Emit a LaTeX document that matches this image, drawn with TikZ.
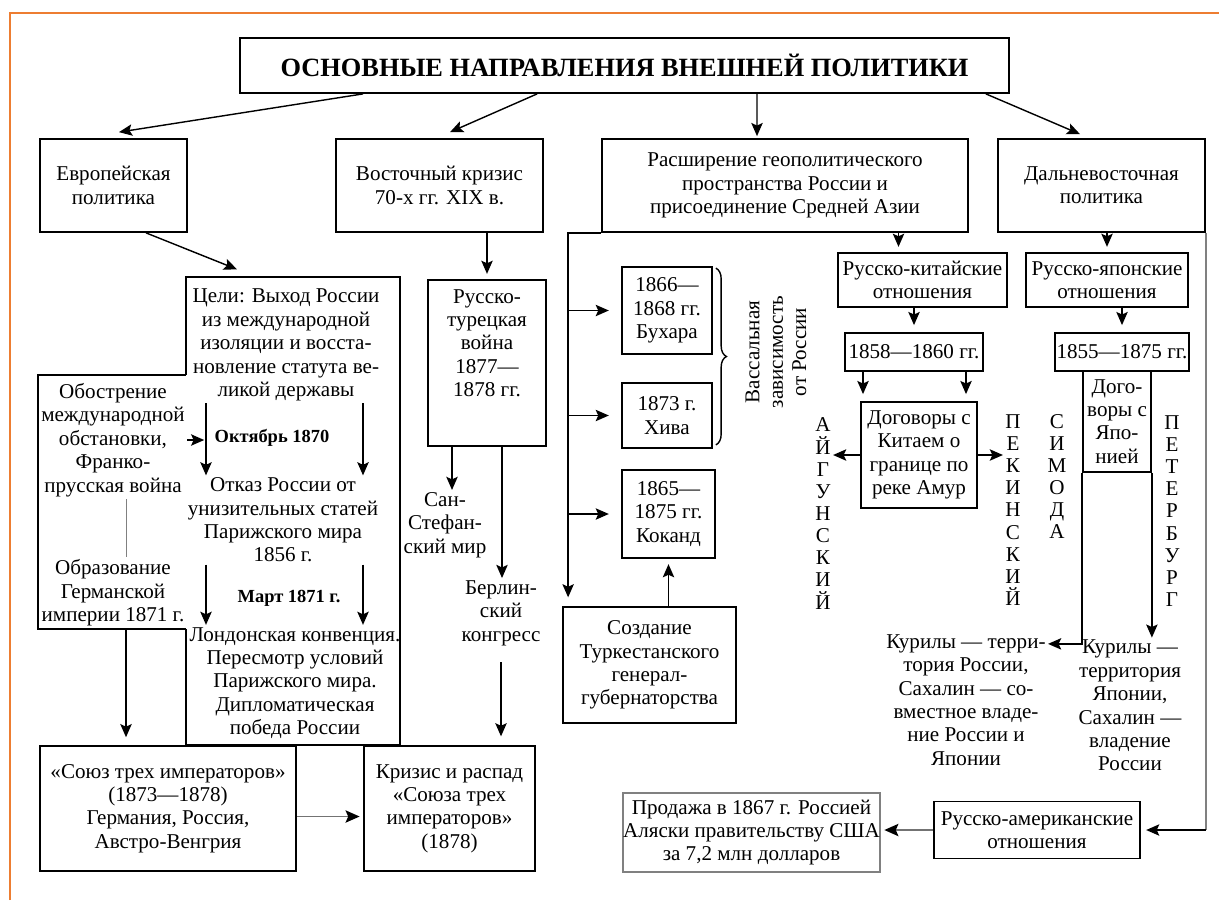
\documentclass[tikz,border=0pt]{standalone}
\usepackage{fontspec}
\setmainfont{Liberation Serif}
\usetikzlibrary{arrows.meta,positioning,calc,decorations.pathreplacing}
\definecolor{frameorange}{RGB}{237,125,49}
\newcommand{\pxu}{0.02cm}

\begin{document}
\begin{tikzpicture}[x=0.02cm, y=-0.02cm, >={Stealth[length=7.5pt,width=6.5pt,inset=1.5pt]},
  line width=0.8pt, font=\fontsize{12}{13.3}\selectfont,
  box/.style={draw, line width=1pt, align=center, inner sep=0pt},
  txt/.style={align=center, inner sep=1pt},
  bold/.style={txt, font=\fontsize{10.5}{13}\selectfont\bfseries},
  vert/.style={align=center, inner sep=1pt, font=\fontsize{12}{12.6}\selectfont},
  gline/.style={draw=black!55, line width=1pt, -{Stealth[length=8pt,width=7pt,inset=1.5pt,color=black]}}]
\useasboundingbox (0,0) rectangle (1219,900);
\draw[frameorange, line width=1.2pt] (10,900) -- (10,13) -- (1219,13);

% top level
\node[box, minimum width=769*\pxu, minimum height=55*\pxu, font=\fontsize{15}{18}\selectfont\bfseries] (title) at (624.5,65.5) {ОСНОВНЫЕ НАПРАВЛЕНИЯ ВНЕШНЕЙ ПОЛИТИКИ};
\node[box, minimum width=147*\pxu, minimum height=93*\pxu] (eur) at (113.5,185.5) {Европейская\\политика};
\node[box, minimum width=207*\pxu, minimum height=93*\pxu] (east) at (439.5,185.5) {Восточный кризис\\70-х гг. XIX в.};
\node[box, minimum width=366*\pxu, minimum height=93*\pxu] (expan) at (785,185.5) {Расширение геополитического\\пространства России и\\присоединение Средней Азии};
\node[box, minimum width=207*\pxu, minimum height=93*\pxu] (fareast) at (1101.5,185.5) {Дальневосточная\\политика};

\draw[->] ($(title.south west)+(124,0)$) -- ($(eur.north)+(5.5,-6)$);
\draw[->] ($(title.south west)+(298,0)$) -- ($(east.north)+(10.5,-6)$);
\draw[->] ($(title.south)+(132.5,0)$) -- ($(expan.north)+(-28,-2)$);
\draw[->] ($(title.south east)+(-24,0)$) -- ($(fareast.north)+(-21.5,-4)$);

% european policy
\node[minimum width=212*\pxu, minimum height=466*\pxu, inner sep=0pt] (goals) at (293,511) {};
\node[minimum width=146*\pxu, minimum height=252*\pxu, inner sep=0pt] (lbox) at (112,502) {};
\draw[line width=1pt] (lbox.north east) -- (lbox.north west) -- (lbox.south west) -- (lbox.south east);
\draw[line width=1pt] (goals.west |- lbox.north) -- (goals.north west) -- (goals.north east)
  -- (goals.south east) -- (goals.south west) -- (goals.west |- lbox.south);
\draw[->] ($(eur.south)+(32.5,0)$) -- ($(goals.north)+(-56,-8)$);

\node[txt] (aim) at (286,345) {Цели: Выход России\\из международной\\изоляции и восста-\\новление статута ве-\\ликой державы};
\node[bold] (oct) at (272,438) {Октябрь 1870};
\node[txt] (refuse) at (283,520) {Отказ России от\\унизительных статей\\Парижского мира\\1856 г.};
\node[bold] (mar) at (289,598) {Март 1871 г.};
\node[txt] (london) at (295,683) {Лондонская конвенция.\\Пересмотр условий\\Парижского мира.\\Дипломатическая\\победа России};
\foreach \xa in {206,363} {
  \draw[->] (aim.south -| \xa,0) -- (refuse.north -| \xa,0);
  \draw[->] (refuse.south -| \xa,0) -- (london.north -| \xa,0);
}

\node[txt] (aggr) at (113,440) {Обострение\\международной\\обстановки,\\Франко-\\прусская война};
\node[txt] (germ) at (113,593) {Образование\\Германской\\империи 1871 г.};
\draw[gray, line width=0.5pt] ($(aggr.south)+(13,0)$) -- ($(germ.north)+(13,0)$);
\draw[->] (aggr.east) -- ++(17,0);

\node[box, minimum width=256*\pxu, minimum height=125*\pxu] (union) at (168,808.5) {«Союз трех императоров»\\(1873—1878)\\Германия, Россия,\\Австро-Венгрия};
\node[box, minimum width=171*\pxu, minimum height=125*\pxu] (crisis) at (449.5,808.5) {Кризис и распад\\«Союза трех\\императоров»\\(1878)};
\coordinate (lb) at ($(lbox.south)+(14,0)$);
\draw[->, shorten >=4.5pt] (lb) -- (lb |- union.north);
\draw[gline, shorten >=2pt] ($(union.east)+(0,8)$) -- ($(crisis.west)+(0,8)$);

% eastern crisis
\node[box, minimum width=118*\pxu, minimum height=166*\pxu] (rt) at (487,363) {};
\node[txt] (rttxt) at (487,343) {Русско-\\турецкая\\война\\1877—\\1878 гг.};
\draw[->, shorten >=3pt] (rt.north |- east.south) -- (rt.north);
\node[txt] (sanst) at (445,525) {Сан-\\Стефан-\\ский мир};
\node[txt] (berlin) at (501,613) {Берлин-\\ский\\конгресс};
\coordinate (rt1) at ($(rt.south)+(-35,0)$);
\coordinate (rt2) at ($(rt.south)+(15,0)$);
\draw[->] (rt1) -- (rt1 |- sanst.north);
\draw[->] (rt2) -- (rt2 |- berlin.north);
\draw[->, shorten <=8pt, shorten >=5pt] (berlin.south) -- (berlin.south |- crisis.north);

% central asia
\node[box, minimum width=90*\pxu, minimum height=87*\pxu] (bukh) at (667,310.5) {1866—\\1868 гг.\\Бухара};
\node[box, minimum width=90*\pxu, minimum height=65*\pxu] (khiva) at (667,415.5) {1873 г.\\Хива};
\node[box, minimum width=93*\pxu, minimum height=88*\pxu] (kok) at (668.5,514) {1865—\\1875 гг.\\Коканд};
\node[box, minimum width=173*\pxu, minimum height=116*\pxu] (turk) at (649.5,665) {Создание\\Туркестанского\\генерал-\\губернаторства};
\coordinate (trunk) at ($(expan.south west)+(-33,0)$);
\draw[->, shorten >=5pt] (expan.south west) -- (trunk) -- (trunk |- turk.north);
\foreach \b in {bukh,khiva,kok}
  \draw[->, shorten >=7pt] (trunk |- \b.west) -- (\b.west);
\draw[->, shorten >=3pt] (kok.south |- turk.north) -- (kok.south);
\draw[decorate, decoration={brace, amplitude=6pt}] ($(bukh.north east)+(3,2)$) -- ($(khiva.south east)+(3,-4)$);
\node[txt, rotate=90] (vassal) at (776,352) {Вассальная\\зависимость\\от России};

% china
\node[box, minimum width=169*\pxu, minimum height=54*\pxu] (rc) at (922.5,280) {Русско-китайские\\отношения};
\coordinate (rcin) at ($(rc.north)+(-24,0)$);
\draw[->, shorten >=3pt] (rcin |- expan.south) -- (rcin);
\node[box, minimum width=138*\pxu, minimum height=38*\pxu] (y58) at (914,352) {1858—1860 гг.};
\draw[->, shorten >=4pt] (y58.north |- rc.south) -- (y58.north);
\node[box, minimum width=116*\pxu, minimum height=106*\pxu] (amur) at (919,455) {Договоры с\\Китаем о\\границе по\\реке Амур};
\foreach \dx in {-51,52} {
  \coordinate (s) at ($(y58.south)+(\dx,0)$);
  \draw[->, shorten >=4pt] (s) -- (s |- amur.north);
}
\node[vert] (aig) at (823,513.5) {А\\Й\\Г\\У\\Н\\С\\К\\И\\Й};
\node[vert] (pek) at (1013,510) {П\\Е\\К\\И\\Н\\С\\К\\И\\Й};
\node[vert] (sim) at (1057,476.5) {С\\И\\М\\О\\Д\\А};
\draw[->] (amur.west) -- (amur.west -| aig.east);
\draw[->] (amur.east) -- (amur.east -| pek.west);

% japan
\node[box, minimum width=162*\pxu, minimum height=54*\pxu] (rj) at (1107,280) {Русско-японские\\отношения};
\draw[->, shorten >=3pt] (rj.north |- fareast.south) -- (rj.north);
\node[box, minimum width=134*\pxu, minimum height=38*\pxu] (y55) at (1122,352) {1855—1875 гг.};
\draw[->, shorten >=4pt] (y55.north |- rj.south) -- (y55.north);
\node[box, minimum width=68*\pxu, minimum height=101*\pxu] (tj) at (1117,421.5) {Дого-\\воры с\\Япо-\\нией};
\node[vert] (pet) at (1172,511) {П\\Е\\Т\\Е\\Р\\Б\\У\\Р\\Г};
\node[txt] (kur1) at (966,700) {Курилы — терри-\\тория России,\\Сахалин — со-\\вместное владе-\\ние России и\\Японии};
\node[txt] (kur2) at (1130,705.5) {Курилы —\\территория\\Японии,\\Сахалин —\\владение\\России};
\coordinate (k1) at ($(tj.south west)+(0,171)$);
\draw[->] (tj.south west) -- (k1) -- (k1 -| kur1.east);
\draw[->] (tj.south east) -- (tj.south east |- kur2.north);

% america
\node[box, minimum width=206*\pxu, minimum height=57*\pxu] (ra) at (1037,830) {Русско-американские\\отношения};
\node[box, draw=gray, minimum width=255*\pxu, minimum height=79*\pxu] (alaska) at (751.5,832.5) {Продажа в 1867 г. Россией\\Аляски правительству США\\за 7,2 млн долларов};
\coordinate (fecorner) at (fareast.south east |- ra.east);
\draw[gray] (fareast.south east) -- (fecorner);
\draw[->, shorten >=3pt] (fecorner) -- (ra.east);
\draw[gline, shorten >=2pt] (ra.west) -- (ra.west -| alaska.east);
\end{tikzpicture}
\end{document}
